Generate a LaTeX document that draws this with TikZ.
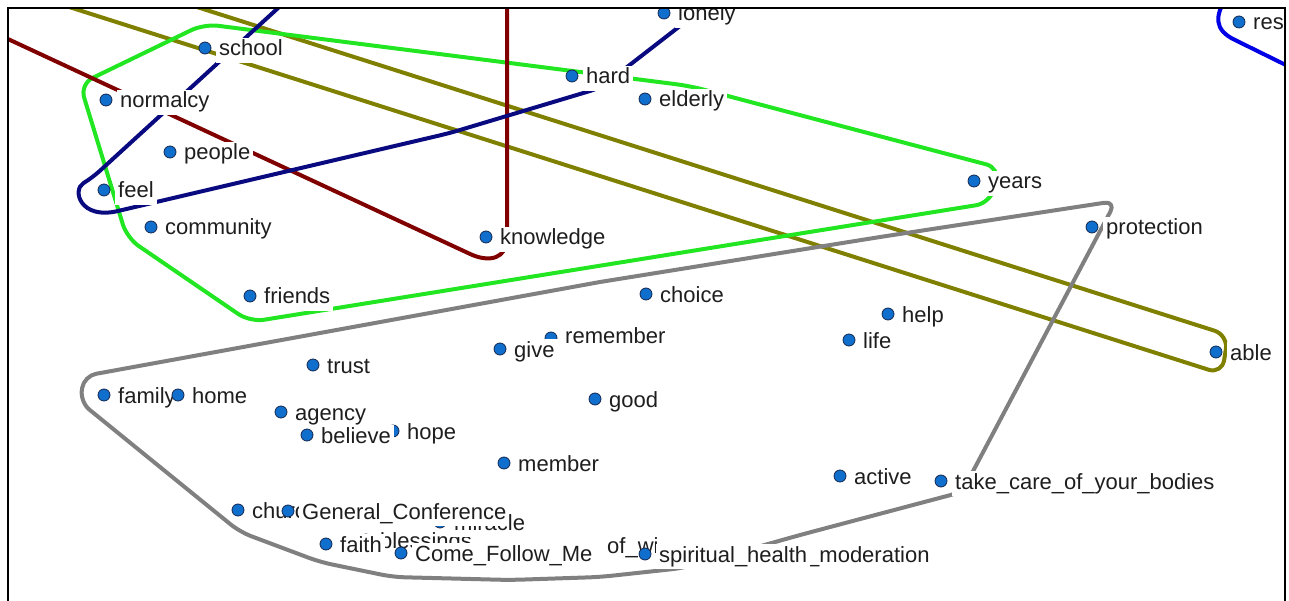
\documentclass[tikz,border=0pt]{standalone}
\usepackage{tikz}
\usepackage{fontspec}
\setmainfont{Liberation Sans}
\definecolor{cgreen}{RGB}{34,230,34}
\definecolor{cnavy}{RGB}{10,10,128}
\definecolor{cmaroon}{RGB}{128,0,0}
\definecolor{colive}{RGB}{128,128,0}
\definecolor{cgray}{RGB}{128,128,128}
\definecolor{cblue}{RGB}{0,0,230}
\definecolor{cdot}{RGB}{16,110,205}
\definecolor{cdotedge}{RGB}{20,40,80}
\definecolor{ctext}{RGB}{30,30,30}
\newcommand\wrd[4]{\node[dot] (#1) at (#2,#3) {};\node[lbl] (#1t) at (#2+11,#3+8) {#4};}
\begin{document}
\begin{tikzpicture}[x=1pt,y=-1pt,
  dot/.style={circle,fill=cdot,draw=cdotedge,line width=0.8pt,minimum size=12pt,inner sep=0pt},
  lbl/.style={anchor=base west,fill=white,inner xsep=3pt,inner ysep=2pt,text height=16pt,text depth=5pt,
    font=\fontsize{22}{26}\selectfont,text=ctext},
  hull/.style={line width=4pt,line join=round,line cap=round}]
\useasboundingbox (0,0) rectangle (1289,601);
\begin{scope}
\clip (8,8) rectangle (1285,601);
% hull contours
\draw[hull,colive,rounded corners=14pt] (112,-20) -- (1228,335) -- (1222,374) -- (-22,-22);
\draw[hull,cgreen,rounded corners=14pt] (142,54) -- (204,24) -- (690,86) -- (1000,168) -- (990,203)
   -- (250,322) -- (127,238) -- (80,84) -- (142,54);
\draw[hull,cmaroon] (-5,33) -- (468,253) .. controls (490,264) and (507,258) .. (507,238) -- (507,-5);
\draw[hull,cnavy,rounded corners=10pt] (300,-12) -- (92,178) [sharp corners] .. controls (72,190) and (80,220) .. (118,211)
   [rounded corners=10pt] -- (450,133) -- (600,88) -- (720,-5);
\draw[hull,cgray,rounded corners=12pt] (600,282) -- (880,237) -- (1116,201) -- (962,492) -- (800,535)
   -- (683,568) -- (600,577) -- (510,580) -- (393,577) -- (320,562) -- (240,532) -- (80,402)
   -- (84,376) -- (600,282);
\draw[hull,cblue] (1228,-5) .. controls (1214,16) and (1214,30) .. (1235,40) -- (1300,72);
% words
\wrd{school}{205}{48}{school}
\wrd{normalcy}{106}{100}{normalcy}
\wrd{people}{170}{152}{people}
\wrd{feel}{104}{190}{feel}
\wrd{community}{151}{227}{community}
\wrd{friends}{250}{296}{friends}
\wrd{knowledge}{486}{237}{knowledge}
\wrd{lonely}{664}{13}{lonely}
\wrd{hard}{572}{76}{hard}
\wrd{elderly}{645}{99}{elderly}
\wrd{years}{974}{181}{years}
\wrd{protection}{1092}{227}{protection}
\wrd{res}{1239}{22}{res}
\wrd{choice}{646}{294}{choice}
\node[dot] (remember) at (551,338) {};
\node[lbl] (remembert) at (562,343) {remember};
\wrd{give}{500}{349}{give}
\wrd{help}{888}{314}{help}
\wrd{life}{849}{340}{life}
\wrd{able}{1216}{352}{able}
\wrd{trust}{313}{365}{trust}
\wrd{family}{104}{395}{family}
\wrd{home}{178}{395}{home}
\wrd{agency}{281}{412}{agency}
\wrd{hope}{393}{431}{hope}
\wrd{believe}{307}{435}{believe}
\wrd{good}{595}{399}{good}
\wrd{member}{504}{463}{member}
\wrd{active}{840}{476}{active}
\wrd{takecare}{941}{481}{take\_care\_of\_your\_bodies}
\wrd{blessings}{366}{540}{blessings}
\wrd{miracle}{440}{522}{miracle}
\wrd{church}{238}{510}{church}
\wrd{genconf}{288}{511}{General\_Conference}
\wrd{faith}{326}{544}{faith}
\node[lbl] (ofwi) at (604,553) {of\_wi};
\wrd{cfm}{401}{553}{Come\_Follow\_Me}
\node[lbl] (moder) at (804,562) {\_moderation};
\wrd{spirit}{645}{554}{spiritual\_health}
\end{scope}
\draw[line width=2pt] (8,601) -- (8,8) -- (1285,8) -- (1285,601);
\end{tikzpicture}
\end{document}
